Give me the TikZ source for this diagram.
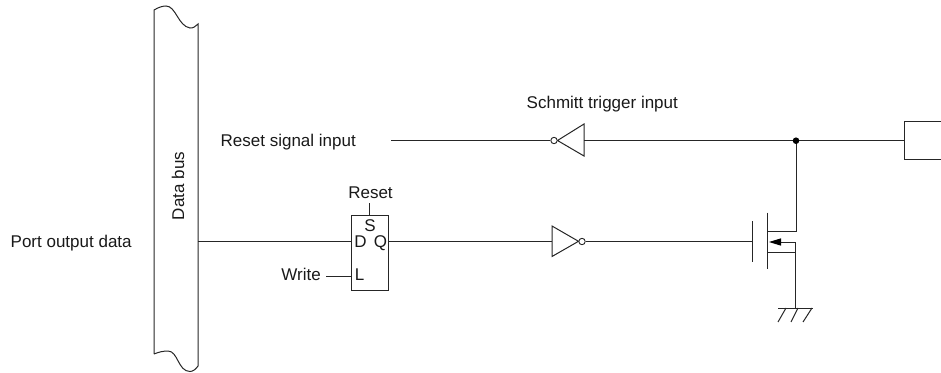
\documentclass[tikz,border=0pt]{standalone}
\usepackage{fontspec}
\setmainfont{Liberation Sans}
\usetikzlibrary{calc}
\tikzset{
  wire/.style={line width=1pt,black!85},
  lbl/.style={inner sep=0pt,font=\fontsize{17}{20}\selectfont,text=black!90},
  bubble/.style={circle,draw=black!85,line width=0.9pt,fill=white,minimum size=6.4pt,inner sep=0pt},
}
\begin{document}
\begin{tikzpicture}[x=1pt,y=-1pt]
\useasboundingbox (0,0) rectangle (941,372);
% data bus
\draw[wire] (154,354) -- (154,10) .. controls (159,7) and (163,6) .. (166,6)
  .. controls (176,6) and (178,26) .. (190,28) .. controls (193,28.5) and (196,26) .. (198,24)
  -- (198,366) .. controls (196,369) and (193,371.5) .. (190,371.5)
  .. controls (178,371.5) and (178,351) .. (168,351) .. controls (163,351) and (159,352) .. (154,354);
\node[lbl,rotate=90,anchor=base] (busl) at (184,186) {Data bus};
% labels
\node[lbl,anchor=base west] (portl) at (10.5,247) {Port output data};
\node[lbl,anchor=base west] (rstin) at (220.5,146) {Reset signal input};
\node[lbl,anchor=base west] (schl) at (526.5,108.5) {Schmitt trigger input};
\node[lbl,anchor=base] (resetl) at (370.5,198.3) {Reset};
\node[lbl,anchor=base east] (writel) at (321,280.7) {Write};
% flip-flop
\node[draw=black!85,line width=1pt,minimum width=36.5pt,minimum height=75pt,inner sep=0pt] (ff) at (370,252.5) {};
\node[lbl,anchor=base] (fs) at (370,231) {S};
\node[lbl,anchor=base] (fd) at (360.5,247.2) {D};
\node[lbl,anchor=base] (fq) at (380.5,247.2) {Q};
\node[lbl,anchor=base] (fl) at (359.7,280.7) {L};
\coordinate (busd) at (198,241);
\coordinate (ffd) at (ff.west |- busd);
\coordinate (ffq) at (ff.east |- busd);
\coordinate (ffl) at (ff.west |- 0,276);
\coordinate (wr) at (326,276);
\coordinate (rsb) at (369,203);
\coordinate (rse) at (369,215);
\draw[wire] (busd) -- (ffd);
\draw[wire] (wr) -- (ffl);
\draw[wire] (rsb) -- (rse);
% output inverter
\coordinate (i1a) at (552,226);
\coordinate (i1b) at (552,256.5);
\coordinate (i1t) at (578.5,241.3);
\draw[wire] (i1a) -- (i1b) -- (i1t) -- cycle;
\node[bubble] (i1o) at (582,241.5) {};
\draw[wire] (ffq) -- (552,241);
% mosfet
\coordinate (gt) at (752,221);
\coordinate (gb) at (752,261.5);
\coordinate (gm) at (752,241.5);
\coordinate (ct) at (767,212.5);
\coordinate (cb) at (767,269);
\coordinate (d0) at (767,231);
\coordinate (d1) at (796,231);
\coordinate (s0) at (767,252);
\coordinate (s1) at (795.5,252);
\coordinate (bd) at (795.5,242);
\coordinate (ah) at (769,242);
\coordinate (ab) at (781,242);
\coordinate (gnd) at (795.5,308);
\draw[wire] (gt) -- (gb);
\draw[wire] (ct) -- (cb);
\draw[wire] (i1o) -- (gm);
\draw[wire] (s0) -- (s1);
\draw[wire] (ab) -- (bd) -- (gnd);
\fill[black] (ah) -- (781,238.3) -- (781,245.7) -- cycle;
% ground
\draw[wire] (778,308) -- (813,308);
\draw[wire] (786,308) -- (778,322);
\draw[wire] (798,308) -- (791,322);
\draw[wire] (812,308) -- (803,322);
% schmitt inverter
\coordinate (i2a) at (584,124);
\coordinate (i2b) at (584,156);
\coordinate (i2t) at (557.5,140.5);
\draw[wire] (i2a) -- (i2b) -- (i2t) -- cycle;
\node[bubble] (i2o) at (554,140.5) {};
\coordinate (rs) at (391,140.5);
\draw[wire] (rs) -- (i2o);
% pad + net
\coordinate (dot) at (796,140.7);
\coordinate (padw) at (904,140.7);
\draw[wire] (i2a |- dot) -- (padw);
\draw[wire] (dot) -- (d1) -- (d0);
\fill[black] (dot) circle (3.3);
\draw[wire] (941,121) -- (904,121) -- (904,159) -- (941,159);
\end{tikzpicture}
\end{document}
